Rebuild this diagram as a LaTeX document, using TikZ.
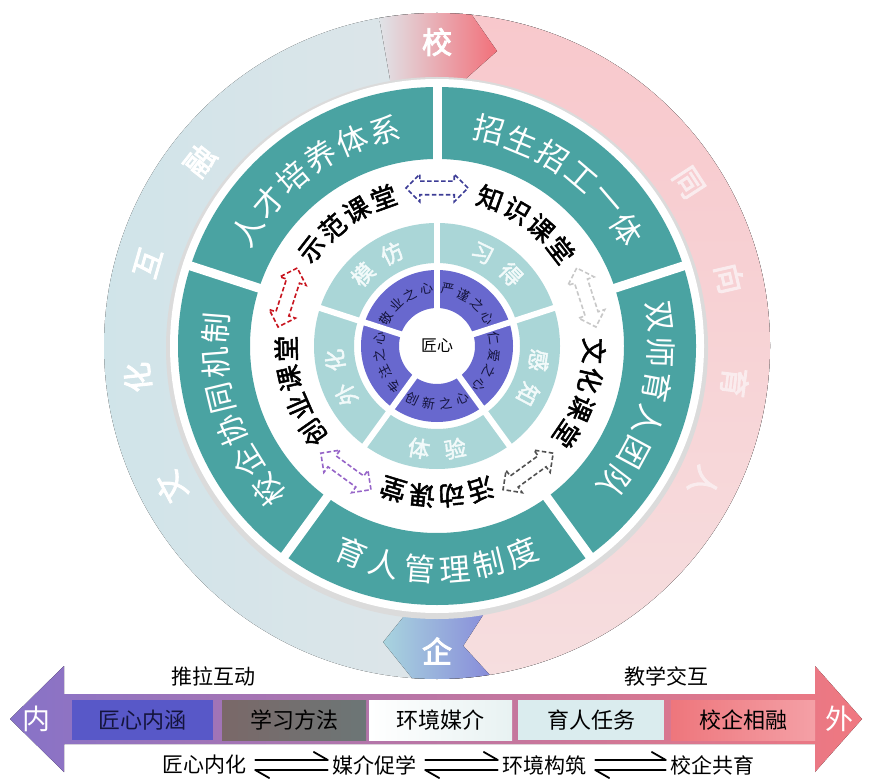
\documentclass[tikz,border=0pt]{standalone}
\usepackage{fontspec}
\usetikzlibrary{shapes.arrows,calc}
\newfontfamily\cjk{Noto Sans CJK SC}
\newfontfamily\cjkb[FakeBold=2]{Noto Sans CJK SC}
\definecolor{tealc}{RGB}{74,163,162}
\definecolor{lteal}{RGB}{170,214,215}
\definecolor{purp}{RGB}{104,104,206}
\definecolor{ringL}{RGB}{208,228,233}
\definecolor{ringR}{RGB}{236,230,234}
\definecolor{pinkT}{RGB}{248,200,204}
\definecolor{pinkB}{RGB}{246,222,223}
\definecolor{chevL}{RGB}{224,228,232}
\definecolor{chevM}{RGB}{238,196,202}
\definecolor{chevR}{RGB}{242,112,122}
\definecolor{qiL}{RGB}{168,212,222}
\definecolor{qiR}{RGB}{136,140,218}
\definecolor{pinkTxt}{RGB}{250,236,238}
\definecolor{lightTxt}{RGB}{242,250,250}
\definecolor{purpTxt}{RGB}{20,20,60}
\definecolor{arrBlue}{RGB}{60,60,150}
\definecolor{arrGray}{RGB}{200,200,200}
\definecolor{arrDark}{RGB}{80,80,80}
\definecolor{arrPurp}{RGB}{150,100,200}
\definecolor{arrRed}{RGB}{200,20,30}
\definecolor{barL}{RGB}{135,115,200}
\definecolor{barM}{RGB}{228,196,214}
\definecolor{barR}{RGB}{240,120,128}
\newcommand\arcout[6]{%
  \foreach \ch [count=\i from 0] in {#6}{%
    \pgfmathsetmacro\ang{#3+((#5-1)/2-\i)*#4}%
    \node[#1, rotate=\ang-90] at (\ang:#2) {\ch};%
  }}
\newcommand\arcin[6]{%
  \foreach \ch [count=\i from 0] in {#6}{%
    \pgfmathsetmacro\ang{#3-((#5-1)/2-\i)*#4}%
    \node[#1, rotate=\ang+90] at (\ang:#2) {\ch};%
  }}
\tikzset{
  outerch/.style={font=\cjk\fontsize{30}{30}\selectfont, text=white, inner sep=0,
     execute at begin node={\special{pdf:literal direct 2 Tr 0.9 w 0.62 G}},
     execute at end node={\special{pdf:literal direct 0 Tr}}},
  pinkch/.style={font=\cjk\fontsize{30}{30}\selectfont, text=pinkTxt, inner sep=0,
     execute at begin node={\special{pdf:literal direct 2 Tr 0.9 w 0.55 0.4 0.42 RG}},
     execute at end node={\special{pdf:literal direct 0 Tr}}},
  tealch/.style={font=\cjk\fontsize{31}{31}\selectfont, text=white, inner sep=0},
  coursech/.style={font=\cjkb\fontsize{26}{26}\selectfont, text=black, inner sep=0},
  lightch/.style={font=\cjk\fontsize{22}{22}\selectfont, text=lightTxt, inner sep=0,
     execute at begin node={\special{pdf:literal direct 2 Tr 0.5 w 0.55 0.68 0.68 RG}},
     execute at end node={\special{pdf:literal direct 0 Tr}}},
  purpch/.style={font=\cjk\fontsize{13}{13}\selectfont, text=purpTxt, inner sep=0},
  darr/.style={double arrow, draw=#1, dash pattern=on 4.5pt off 2.5pt, line width=1.6,
    inner xsep=0, inner ysep=6, minimum height=62, double arrow head extend=7},
  barbox/.style={minimum width=#1, minimum height=40, inner sep=0,
    font=\cjk\fontsize{22}{22}\selectfont},
  bartxt/.style={font=\cjk\fontsize{21}{21}\selectfont, inner sep=1},
  harp/.style={line width=1.8, line cap=round, line join=round}
}
\begin{document}
\begin{tikzpicture}[x=1pt,y=1pt]
\useasboundingbox (0,0) rectangle (869,780);
\begin{scope}[shift={(437,434)}]
  % outer ring
  \fill[even odd rule, left color=ringL, right color=ringR] (0,0) circle[radius=333] (0,0) circle[radius=268];
  \fill[top color=pinkT, bottom color=pinkB] (86:333) arc[start angle=86, end angle=-88, radius=333]
     -- (-88:268) arc[start angle=-88, end angle=86, radius=268] -- cycle;
  \fill[left color=chevL, middle color=chevM, right color=chevR]
     (100:333) arc[start angle=100, end angle=84, radius=333] -- (78.5:301) -- (84:268)
     arc[start angle=84, end angle=100, radius=268] -- cycle;
  \fill[left color=qiL, right color=qiR]
     (-79.3:268) arc[start angle=-79.3, end angle=-96.4, radius=268] -- (-100.3:301)
     -- (-94.3:333) arc[start angle=-94.3, end angle=-80.9, radius=333] -- (-85:301) -- cycle;
  % white disk
  \fill[black!14] (0,-2) circle[radius=271];
  \fill[white] (0,0) circle[radius=267];
  % teal ring
  \fill[tealc, even odd rule] (0,0) circle[radius=259] (0,0) circle[radius=187];
  \foreach \a in {90,18,-54,-126,162} \draw[white, line width=9] (\a:183) -- (\a:263);
  % inner rings
  \fill[lteal, even odd rule] (0,0) circle[radius=123] (0,0) circle[radius=83];
  \fill[purp, even odd rule] (0,0) circle[radius=76] (0,0) circle[radius=38];
  \foreach \a in {90,18,-54,-126,162} \draw[white, line width=6] (\a:37) -- (\a:126);
  % outer ring labels
  \arcout{outerch}{301}{175}{22}{4}{文,化,互,融}
  \arcout{pinkch}{300}{3}{20}{4}{同,向,育,人}
  \arcout{outerch}{304}{90}{0}{1}{校}
  \arcin{outerch}{305}{-90}{0}{1}{企}
  % teal labels
  \arcout{tealch}{222}{126}{9}{6}{人,才,培,养,体,系}
  \arcout{tealch}{222}{54}{9}{6}{招,生,招,工,一,体}
  \arcout{tealch}{224}{-15}{9}{6}{双,师,育,人,团,队}
  \arcin{tealch}{224}{-90}{9}{6}{育,人,管,理,制,度}
  \arcout{tealch}{222}{198}{9}{6}{校,企,协,同,机,制}
  % course labels
  \arcout{coursech}{158}{126}{10.8}{4}{示,范,课,堂}
  \arcout{coursech}{157}{54}{10.8}{4}{知,识,课,堂}
  \arcout{coursech}{157}{-18}{10.8}{4}{文,化,课,堂}
  \arcout{coursech}{150}{-90}{11.3}{4}{活,动,课,堂}
  \arcout{coursech}{151}{198}{11.3}{4}{创,业,课,堂}
  % light ring labels
  \arcout{lightch}{103}{126}{20}{2}{模,仿}
  \arcout{lightch}{103}{54}{20}{2}{习,得}
  \arcout{lightch}{103}{-18}{20}{2}{感,知}
  \arcin{lightch}{104}{-90}{20}{2}{体,验}
  \arcout{lightch}{103}{198}{20}{2}{外,化}
  % purple labels
  \arcout{purpch}{58}{126}{17}{4}{敬,业,之,心}
  \arcout{purpch}{58}{54}{17}{4}{严,谨,之,心}
  \arcout{purpch}{58}{-18}{17}{4}{仁,爱,之,心}
  \arcin{purpch}{58}{-90}{17}{4}{创,新,之,心}
  \arcout{purpch}{58}{198}{17}{4}{专,注,之,心}
  \node[font=\cjk\fontsize{16}{16}\selectfont, inner sep=0] (core) at (0,0) {匠心};
  % dashed double arrows
  \node[darr=arrBlue] (a1) at (90:158) {};
  \node[darr=arrGray, rotate=108] (a2) at (18:157) {};
  \node[darr=arrDark, rotate=36] (a3) at (-54:155) {};
  \node[darr=arrPurp, rotate=-36] (a4) at (-126:155) {};
  \node[darr=arrRed, rotate=72] (a5) at (162:157) {};
\end{scope}
% bottom bar
\fill[left color=barL, middle color=barM, right color=barR]
  (10,61) -- (64,114) -- (64,86) -- (815,86) -- (815,114) -- (862,61)
  -- (815,8) -- (815,36) -- (64,36) -- (64,8) -- cycle;
\node[font=\cjk\fontsize{28}{28}\selectfont, text=white, inner sep=0] (nei) at (36,61) {内};
\node[font=\cjk\fontsize{28}{28}\selectfont, text=white, inner sep=0] (wai) at (839,61) {外};
\node[barbox=141, fill={rgb,255:red,88;green,88;blue,200}, text=purpTxt] (b1) at (142.5,60) {匠心内涵};
\node[barbox=144, left color={rgb,255:red,122;green,104;blue,104}, right color={rgb,255:red,108;green,118;blue,118}] (b2) at (294,60) {学习方法};
\node[barbox=143, left color=white, right color={rgb,255:red,232;green,242;blue,242}] (b3) at (440.5,60) {环境媒介};
\node[barbox=146, fill={rgb,255:red,218;green,236;blue,238}] (b4) at (591,60) {育人任务};
\node[barbox=144, left color={rgb,255:red,238;green,118;blue,124}, right color={rgb,255:red,244;green,160;blue,166}] (b5) at (743,60) {校企相融};
\node[bartxt] (tl) at (213,104) {推拉互动};
\node[bartxt] (tr) at (666,104) {教学交互};
\node[bartxt] (m1) at (204,15) {匠心内化};
\node[bartxt] (m2) at (374,15) {媒介促学};
\node[bartxt] (m3) at (544,15) {环境构筑};
\node[bartxt] (m4) at (712,15) {校企共育};
\foreach \p/\q in {m1/m2, m2/m3, m3/m4}{
  \draw[harp] ([xshift=8,yshift=5]\p.east) -- ([xshift=-3,yshift=5]\q.west) -- ++(-14,8);
  \draw[harp] ([xshift=-3,yshift=-5]\q.west) -- ([xshift=8,yshift=-5]\p.east) -- ++(14,-8);
}
\end{tikzpicture}
\end{document}
